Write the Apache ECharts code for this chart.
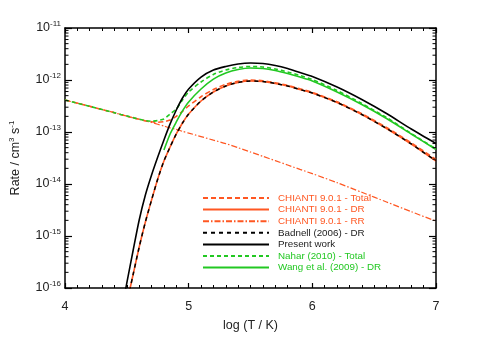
<!DOCTYPE html>
<html>
<head>
<meta charset="utf-8">
<script src="https://cdn.jsdelivr.net/npm/echarts@6/dist/echarts.min.js"></script>
<style>html,body{margin:0;padding:0;background:#fff}#c{width:491px;height:347px}</style>
</head>
<body>
<div id="c"></div>
<script>
// log10(T / K) grid
var logT = [4.0, 4.2, 4.4, 4.45, 4.5, 4.55, 4.6, 4.65, 4.7, 4.75, 4.8, 4.85, 4.9, 4.95, 5.0,
            5.1, 5.2, 5.3, 5.4, 5.5, 5.6, 5.7, 5.8, 5.9, 6.0, 6.2, 6.4, 6.6, 6.8, 7.0];
// rates, cm^3 s^-1
var chiantiTotal = [4.12e-13, 3.12e-13, 2.35e-13, 2.17e-13, 2.02e-13, 1.88e-13, 1.76e-13, 1.65e-13, 1.57e-13, 1.54e-13,
                    1.58e-13, 1.70e-13, 2.00e-13, 2.50e-13, 3.17e-13, 4.76e-13, 6.57e-13, 8.27e-13, 9.46e-13, 9.98e-13,
                    9.70e-13, 8.85e-13, 7.90e-13, 6.75e-13, 5.78e-13, 3.80e-13, 2.24e-13, 1.22e-13, 6.17e-14, 2.96e-14];
var chiantiDR = [null, null, null, 1.56e-17, 5.15e-17, 1.78e-16, 6.14e-16, 1.86e-15, 4.92e-15, 1.25e-14,
                 2.77e-14, 5.15e-14, 9.16e-14, 1.49e-13, 2.22e-13, 3.95e-13, 5.88e-13, 7.67e-13, 8.96e-13, 9.57e-13,
                 9.36e-13, 8.57e-13, 7.67e-13, 6.56e-13, 5.62e-13, 3.69e-13, 2.17e-13, 1.17e-13, 5.88e-14, 2.77e-14];
var chiantiRR = [4.12e-13, 3.12e-13, 2.35e-13, 2.17e-13, 2.02e-13, 1.88e-13, 1.75e-13, 1.63e-13, 1.52e-13, 1.41e-13,
                 1.30e-13, 1.20e-13, 1.12e-13, 1.03e-13, 9.53e-14, 8.16e-14, 6.98e-14, 5.98e-14, 4.99e-14, 4.12e-14,
                 3.41e-14, 2.81e-14, 2.32e-14, 1.91e-14, 1.58e-14, 1.06e-14, 6.92e-15, 4.51e-15, 2.93e-15, 1.93e-15];
var badnellDR = [null, null, null, 1.56e-17, 5.15e-17, 1.78e-16, 6.14e-16, 1.86e-15, 4.92e-15, 1.25e-14,
                 2.77e-14, 5.15e-14, 9.16e-14, 1.49e-13, 2.22e-13, 3.95e-13, 5.88e-13, 7.67e-13, 8.96e-13, 9.57e-13,
                 9.36e-13, 8.57e-13, 7.67e-13, 6.56e-13, 5.62e-13, 3.69e-13, 2.17e-13, 1.17e-13, 5.88e-14, 2.77e-14];
var presentWork = [null, null, null, 3.03e-17, 1.25e-16, 5.15e-16, 2.03e-15, 6.14e-15, 1.49e-14, 3.30e-14,
                   7.02e-14, 1.43e-13, 2.65e-13, 4.51e-13, 6.71e-13, 1.14e-12, 1.56e-12, 1.82e-12, 2.03e-12, 2.12e-12,
                   2.07e-12, 1.90e-12, 1.66e-12, 1.39e-12, 1.17e-12, 7.33e-13, 4.22e-13, 2.27e-13, 1.14e-13, 6.01e-14];
var naharTotal = [4.12e-13, 3.12e-13, 2.35e-13, 2.18e-13, 2.03e-13, 1.89e-13, 1.76e-13, 1.66e-13, 1.61e-13, 1.66e-13,
                  1.78e-13, 2.22e-13, 2.77e-13, 4.12e-13, 5.88e-13, 9.16e-13, 1.28e-12, 1.56e-12, 1.74e-12, 1.82e-12,
                  1.78e-12, 1.63e-12, 1.43e-12, 1.22e-12, 1.02e-12, 6.28e-13, 3.53e-13, 1.90e-13, 9.35e-14, 4.71e-14];
var wangDR = [null, null, null, null, null, null, null, null, null, null,
              4.51e-14, 9.16e-14, 1.56e-13, 2.54e-13, 3.78e-13, 6.71e-13, 1.04e-12, 1.36e-12, 1.59e-12, 1.70e-12,
              1.66e-12, 1.52e-12, 1.33e-12, 1.14e-12, 9.57e-13, 5.88e-13, 3.38e-13, 1.82e-13, 9.16e-14, 4.60e-14];
var xTicks = [4, 5, 6, 7];
var legendNames = ['CHIANTI 9.0.1 - Total', 'CHIANTI 9.0.1 - DR', 'CHIANTI 9.0.1 - RR',
                   'Badnell (2006) - DR', 'Present work', 'Nahar (2010) - Total', 'Wang et al. (2009) - DR'];

var ORANGE = '#ff5722', GREEN = '#22c822', BLACK = '#000000';
var FONT = 'Liberation Sans';

function pairs(arr) {
  var out = [];
  for (var i = 0; i < logT.length; i++) if (arr[i] != null) out.push([logT[i], arr[i]]);
  return out;
}
function lineSeries(name, data, color, type, width, z) {
  return {
    name: name, type: 'line', data: pairs(data), symbol: 'none', showSymbol: false,
    smooth: 0.25, clip: true, z: z || 2, animation: false,
    lineStyle: { color: color, width: width, type: type },
    itemStyle: { color: color }
  };
}

// minor tick positions for the log axis (2..9 x 10^e)
var yMinor = [];
for (var e = -16; e < -11; e++) for (var k = 2; k <= 9; k++) yMinor.push([4, k * Math.pow(10, e)]);

var chart = echarts.init(document.getElementById('c'), null, { renderer: 'canvas' });
var textColors = [ORANGE, ORANGE, ORANGE, '#222', '#222', GREEN, GREEN];
chart.setOption({
  animation: false,
  backgroundColor: '#fff',
  textStyle: { fontFamily: FONT },
  grid: { left: 64, right: 55, top: 28, bottom: 59, show: false },
  legend: {
    orient: 'vertical', left: 202, top: 193, padding: 0, itemWidth: 66, itemHeight: 10, itemGap: 1.6,
    itemStyle: { color: 'rgba(0,0,0,0)', borderWidth: 0, opacity: 0 },
    data: legendNames.map(function (n, i) { return { name: n, textStyle: { color: textColors[i] } }; }),
    textStyle: { fontFamily: FONT, fontSize: 9.8, padding: [0, 0, 0, 4] },
    selectedMode: false
  },
  xAxis: [{
    type: 'value', min: 4, max: 7, interval: 1, position: 'bottom',
    name: 'log (T / K)', nameLocation: 'middle', nameGap: 31,
    nameTextStyle: { fontFamily: FONT, fontSize: 12.5, color: '#222' },
    axisLine: { show: true, lineStyle: { color: '#000', width: 1.5 } },
    axisTick: { show: true, inside: true, length: 5, lineStyle: { color: '#000', width: 1.2 } },
    minorTick: { show: true, splitNumber: 10, length: 3, lineStyle: { color: '#000', width: 1 } },
    axisLabel: { show: true, margin: 12, fontSize: 12.5, color: '#222', fontFamily: FONT,
      formatter: function (v) { return xTicks.indexOf(v) >= 0 ? String(v) : ''; } },
    splitLine: { show: false }
  }, {
    type: 'value', min: 4, max: 7, interval: 1, position: 'top',
    axisLine: { show: true, lineStyle: { color: '#000', width: 1.5 } },
    axisTick: { show: true, inside: true, length: 5, lineStyle: { color: '#000', width: 1.2 } },
    minorTick: { show: true, splitNumber: 10, length: 3, lineStyle: { color: '#000', width: 1 } },
    axisLabel: { show: false }, splitLine: { show: false }
  }],
  yAxis: [{
    type: 'log', logBase: 10, min: 1e-16, max: 1e-11, position: 'left',
    name: 'Rate / cm{sup|3} s{sup|-1}', nameLocation: 'middle', nameGap: 42, nameRotate: 90,
    nameTextStyle: { fontFamily: FONT, fontSize: 12.5, color: '#222',
      rich: { sup: { fontSize: 8, fontFamily: FONT, color: '#222', padding: [0, 0, 7, 0] } } },
    axisLine: { show: true, lineStyle: { color: '#000', width: 1.5 } },
    axisTick: { show: true, inside: true, length: 7, lineStyle: { color: '#000', width: 1.2 } },
    axisLabel: { show: true, margin: 4, color: '#222', fontFamily: FONT,
      formatter: function (v) { return '10{sup|' + Math.round(Math.log10(v)) + '}'; },
      rich: { sup: { fontSize: 8, fontFamily: FONT, color: '#222', padding: [0, 0, 9, 0] } },
      fontSize: 12.5 },
    splitLine: { show: false }
  }, {
    type: 'log', logBase: 10, min: 1e-16, max: 1e-11, position: 'right',
    axisLine: { show: true, lineStyle: { color: '#000', width: 1.5 } },
    axisTick: { show: true, inside: true, length: 7, lineStyle: { color: '#000', width: 1.2 } },
    axisLabel: { show: false }, splitLine: { show: false }
  }],
  series: [
    lineSeries(legendNames[0], chiantiTotal, ORANGE, [5, 3], 1.6, 3),
    lineSeries(legendNames[1], chiantiDR, ORANGE, 'solid', 1.6, 2),
    lineSeries(legendNames[2], chiantiRR, ORANGE, [6, 2, 1.5, 2], 1.2, 2),
    lineSeries(legendNames[3], badnellDR, BLACK, [4, 4], 1.5, 4),
    lineSeries(legendNames[4], presentWork, BLACK, 'solid', 1.6, 5),
    lineSeries(legendNames[5], naharTotal, GREEN, [4, 3], 1.6, 3),
    lineSeries(legendNames[6], wangDR, GREEN, 'solid', 1.6, 3),
    {
      type: 'custom', silent: true, clip: false, z: 6, animation: false,
      data: yMinor,
      encode: { x: 0, y: 1 },
      renderItem: function (params, api) {
        var v = api.value(1);
        var pl = api.coord([4, v]);
        var pr = api.coord([7, v]);
        return { type: 'group', children: [
          { type: 'line', shape: { x1: pl[0], y1: pl[1], x2: pl[0] + 3.5, y2: pl[1] }, style: { stroke: '#000', lineWidth: 1 } },
          { type: 'line', shape: { x1: pr[0], y1: pr[1], x2: pr[0] - 3.5, y2: pr[1] }, style: { stroke: '#000', lineWidth: 1 } }
        ] };
      }
    }
  ]
});
</script>
</body>
</html>
